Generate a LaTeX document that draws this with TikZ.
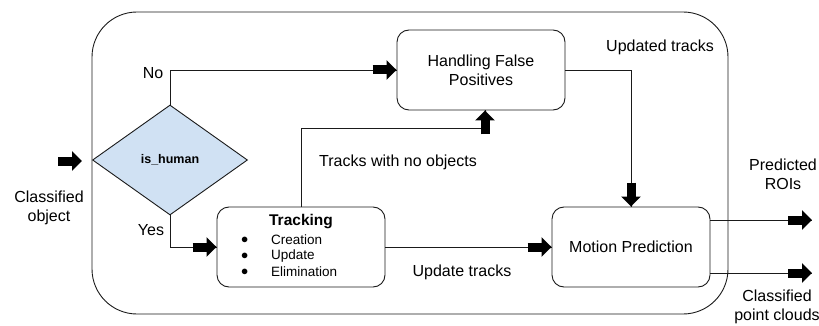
\documentclass[tikz,border=0pt]{standalone}
\usepackage{fontspec}
\setmainfont{Liberation Sans}
\usetikzlibrary{arrows.meta,shapes.geometric,calc}
\definecolor{dblue}{HTML}{D0E1F3}
\definecolor{lc}{HTML}{1A1A1A}
\begin{document}
\begin{tikzpicture}[x=1pt,y=-1pt,
  box/.style={draw=lc, rounded corners=12pt, line width=0.9pt, align=center, inner sep=0pt, font=\fontsize{16}{19}\selectfont},
  thin/.style={draw=lc, line width=0.9pt},
  fat/.style={draw=black, line width=9pt, -{Triangle[length=10pt,width=19pt]}},
  lbl/.style={font=\fontsize{16}{19}\selectfont, align=center, inner sep=0pt},
  item/.style={font=\fontsize{13.5}{16}\selectfont, inner sep=0pt, anchor=west}]
\useasboundingbox (0,0) rectangle (819,326);
\draw[thin, rounded corners=45pt] (92,12) rectangle (728,314);

% nodes
\node[draw=lc, line width=0.9pt, shape=diamond, fill=dblue, minimum width=155pt, minimum height=110pt, inner sep=0pt,
      font=\bfseries\fontsize{12.5}{15}\selectfont] (dec) at (170,160) {is\_human};
\node[box, minimum width=168pt, minimum height=80pt] (hfp) at (481,70) {Handling False\\Positives};
\node[box, minimum width=168pt, minimum height=80pt] (trk) at (301,247) {};
\node[box, minimum width=158pt, minimum height=80pt] (mp) at (631,247) {Motion Prediction};

% tracking content
\node[font=\bfseries\fontsize{15.5}{18}\selectfont, inner sep=0pt] (ttl) at (301,222) {Tracking};
\node[item] (b1) at (241,240) {$\bullet$};
\node[item] (b2) at (241,256) {$\bullet$};
\node[item] (b3) at (241,272) {$\bullet$};
\node[item] (i1) at (271,240) {Creation};
\node[item] (i2) at (271,256) {Update};
\node[item] (i3) at (271,272) {Elimination};

% coordinates
\coordinate (inS) at (58,161);
\coordinate (inE) at (82,161);
\coordinate (k) at (0,128);
\coordinate (o1) at (812,220);
\coordinate (o2) at (812,273);

% connectors
\draw[fat] (inS) -- (inE);

\draw[thin] (dec.north) |- (hfp.west);
\draw[fat] ([xshift=-24pt]hfp.west) -- (hfp.west);

\draw[thin] (dec.south) |- (trk.west);
\draw[fat] ([xshift=-24pt]trk.west) -- (trk.west);

\draw[thin] (trk.north) -- (trk.north |- k) -- ([xshift=4pt]hfp.south |- k) -- ([xshift=4pt]hfp.south);
\draw[fat] ([xshift=4pt,yshift=-24pt]hfp.south) -- ([xshift=4pt]hfp.south);

\draw[thin] (trk.east) -- (mp.west);
\draw[fat] ([xshift=-24pt]mp.west) -- (mp.west);

\draw[thin] (hfp.east) -| (mp.north);
\draw[fat] ([yshift=24pt]mp.north) -- (mp.north);

\draw[thin] ([yshift=27pt]mp.east) -- (o1);
\draw[fat] ([xshift=-24pt]o1) -- (o1);
\draw[thin] ([yshift=-26pt]mp.east) -- (o2);
\draw[fat] ([xshift=-24pt]o2) -- (o2);

% labels
\node[lbl] (lno) at (153,73) {No};
\node[lbl] (lyes) at (151,230) {Yes};
\node[lbl] (lin) at (49,208) {Classified\\object};
\node[lbl] (lupd) at (660,47) {Updated tracks};
\node[lbl] (lnoobj) at (398,162) {Tracks with no objects};
\node[lbl] (lut) at (462,272) {Update tracks};
\node[lbl] (lroi) at (783,174) {Predicted\\ROIs};
\node[lbl] (lpc) at (777,307) {Classified\\point clouds};
\end{tikzpicture}
\end{document}
